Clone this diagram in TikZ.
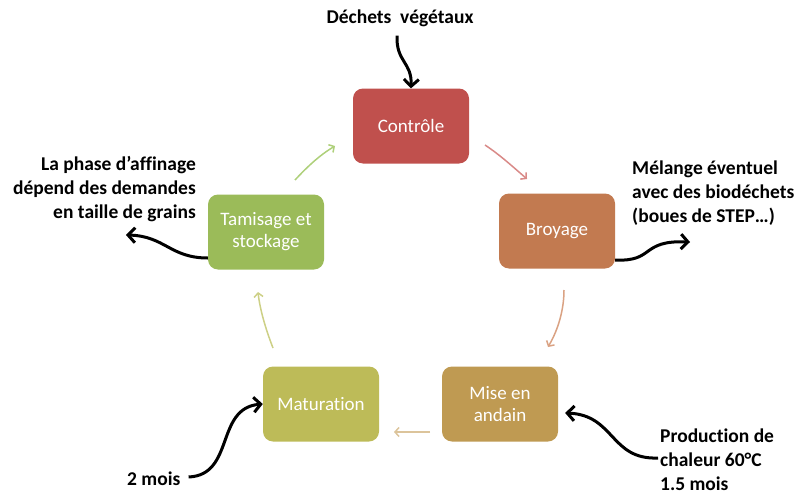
\documentclass[tikz,border=0pt]{standalone}
\usepackage{fontspec}
\setmainfont[Ligatures=NoCommon]{Carlito}
\usetikzlibrary{arrows.meta,calc}
\definecolor{cA}{HTML}{C0504D}
\definecolor{cB}{HTML}{C27A50}
\definecolor{cC}{HTML}{BF9A52}
\definecolor{cD}{HTML}{BDBB58}
\definecolor{cE}{HTML}{9BBB59}
\definecolor{aA}{HTML}{D98A88}
\definecolor{aB}{HTML}{DAA283}
\definecolor{aC}{HTML}{DCC49B}
\definecolor{aD}{HTML}{CDD086}
\definecolor{aE}{HTML}{AED07A}
\begin{document}
\begin{tikzpicture}[x=1pt,y=-1pt,
  box/.style={rounded corners=10pt, minimum width=116pt, minimum height=75pt, text=white, align=center, font=\fontsize{19}{22}\selectfont, inner sep=0pt},
  lbl/.style={font=\bfseries\fontsize{19.5}{24}\selectfont, inner sep=0pt, text=black},
  flow/.style={line width=3pt, -{Straight Barb[length=7pt,width=15pt,line width=3pt]}},
  cyc/.style={line width=1.5pt, -{Straight Barb[length=4pt,width=9pt]}}]
\useasboundingbox (0,0) rectangle (795,495);
% boxes
\node[box, fill=cA] (controle) at (411,126) {Contrôle};
\node[box, fill=cB] (broyage) at (557,231) {Broyage};
\node[box, fill=cC] (mise) at (500,404) {Mise en\\andain};
\node[box, fill=cD] (maturation) at (321,404) {Maturation};
\node[box, fill=cE] (tamisage) at (266,232) {Tamisage et\\stockage};
% labels
\node[lbl] (dechets) at (400,18) {Déchets\hspace{0.45em}végétaux};
\node[lbl, anchor=west, align=left] (melange) at (632,193) {Mélange éventuel\\avec des biodéchets\\(boues de STEP…)};
\node[lbl, anchor=east, align=right] (affinage) at (196,189) {La phase d’affinage\\dépend des demandes\\en taille de grains};
\node[lbl, anchor=west] (deuxmois) at (127,479) {2 mois};
\node[lbl, anchor=west, align=left] (production) at (660,460) {Production de\\chaleur 60°C\\1.5 mois};
% free ends
\coordinate (melangeEnd) at (690,242);
\coordinate (affEnd) at (126,235);
% cycle arrows
\coordinate (c1s) at (485,145); \coordinate (c1e) at (527,179);
\coordinate (c2s) at (564,290); \coordinate (c2e) at (548,347);
\coordinate (c3s) at (430,432); \coordinate (c3e) at (394,432);
\coordinate (c4s) at (273,348); \coordinate (c4e) at (258,292);
\coordinate (c5s) at (295,180); \coordinate (c5e) at (335,146);
\draw[cyc, aA] (c1s) .. controls (500,155) and (512,166) .. (c1e);
\draw[cyc, aB] (c2s) .. controls (564,310) and (558,330) .. (c2e);
\draw[cyc, aC] (c3s) -- (c3e);
\draw[cyc, aD] (c4s) .. controls (266,330) and (260,310) .. (c4e);
\draw[cyc, aE] (c5s) .. controls (308,166) and (320,155) .. (c5e);
% black arrows
\draw[flow] ($(dechets.south)+(-3,9)$) .. controls (396,62) and (412,62) .. (controle.north);
\draw[flow] ($(broyage.east)+(0,29)$) .. controls (655,262) and (640,240) .. (melangeEnd);
\draw[flow] ($(tamisage.west)+(0,26)$) .. controls (170,258) and (165,236) .. (affEnd);
\draw[flow] ($(deuxmois.east)+(8,-2)$) .. controls (235,475) and (215,408) .. (maturation.west);
\draw[flow] ($(production.west)+(-2,-2)$) .. controls (610,460) and (615,415) .. ($(mise.east)+(7,9)$);
\end{tikzpicture}
\end{document}
